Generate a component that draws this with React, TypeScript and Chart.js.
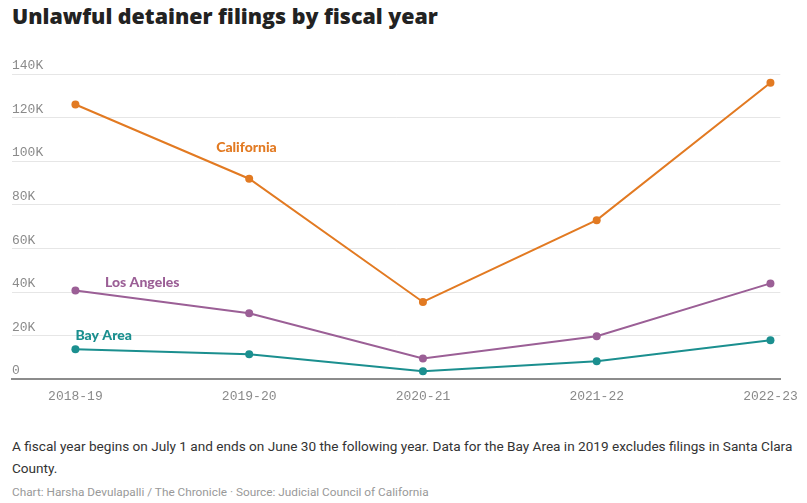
import React, { useEffect, useRef } from "react";
import { Chart, registerables } from "chart.js";

Chart.register(...registerables);

const categories = ["2018-19", "2019-20", "2020-21", "2021-22", "2022-23"];
const california = [126000, 92000, 35500, 73000, 136000];
const losAngeles = [40800, 30300, 9600, 19800, 44000];
const bayArea = [13800, 11500, 3700, 8300, 17900];
const seriesNames = ["California", "Los Angeles", "Bay Area"];
const yTickValues = [0, 20000, 40000, 60000, 80000, 100000, 120000, 140000];

const COLORS = ["#e27a22", "#9b5f96", "#1b8f8f"];

const fmtK = (v: number) => (v === 0 ? "0" : `${v / 1000}K`);

const labelPlugin = {
  id: "customLabels",
  afterDraw(chart: any) {
    const ctx = chart.ctx;
    const x = chart.scales.x;
    const y = chart.scales.y;
    ctx.save();
    // y tick labels above gridlines
    ctx.font = "13px 'Liberation Mono'";
    ctx.fillStyle = "#8a8a8a";
    ctx.textAlign = "left";
    ctx.textBaseline = "alphabetic";
    yTickValues.forEach((v) => {
      ctx.fillText(fmtK(v), chart.chartArea.left, y.getPixelForValue(v) - 5);
    });
    // series labels
    const anchors = [
      [0.81, 106400],
      [0.17, 44500],
      [0.0, 20200],
    ];
    ctx.font = "900 14px Lato";
    ctx.textBaseline = "middle";
    seriesNames.forEach((name, i) => {
      ctx.fillStyle = COLORS[i];
      ctx.fillText(name, x.getPixelForValue(anchors[i][0]), y.getPixelForValue(anchors[i][1]));
    });
    ctx.restore();
  },
};

export default function App() {
  const ref = useRef<HTMLCanvasElement>(null);
  useEffect(() => {
    if (!ref.current) return;
    const mk = (arr: number[]) => arr.map((v, i) => ({ x: i, y: v }));
    const allSeries = [california, losAngeles, bayArea];
    const chart = new Chart(ref.current, {
      type: "line",
      data: {
        datasets: allSeries.map((s, i) => ({
          label: seriesNames[i],
          data: mk(s),
          borderColor: COLORS[i],
          backgroundColor: COLORS[i],
          borderWidth: 2,
          pointRadius: 4,
          pointBorderWidth: 0,
          pointHoverRadius: 4,
          tension: 0,
        })),
      },
      options: {
        animation: false,
        responsive: false,
        maintainAspectRatio: false,
        layout: { padding: { left: 12, right: 19, top: 34, bottom: 7 } },
        plugins: { legend: { display: false }, tooltip: { enabled: false } },
        scales: {
          x: {
            type: "linear",
            min: -0.365,
            max: 4.057,
            afterBuildTicks: (scale: any) => {
              scale.ticks = categories.map((_, i) => ({ value: i }));
            },
            ticks: {
              autoSkip: false,
              maxRotation: 0,
              padding: 9,
              color: "#8a8a8a",
              font: { family: "'Liberation Mono'", size: 13 },
              callback: (v: any) => categories[v as number],
            },
            grid: { display: false, drawTicks: false },
            border: { display: true, color: "#8c8c8c", width: 2 },
          },
          y: {
            min: 0,
            max: 140000,
            afterBuildTicks: (scale: any) => {
              scale.ticks = yTickValues.map((v) => ({ value: v }));
            },
            ticks: { display: false },
            grid: { color: "#e6e6e6", lineWidth: 1, drawTicks: false },
            border: { display: false },
          },
        },
      },
      plugins: [labelPlugin],
    });
    return () => chart.destroy();
  }, []);

  return (
    <div
      style={{
        position: "absolute",
        left: 0,
        top: 0,
        width: 807,
        height: 503,
        background: "#fff",
        overflow: "hidden",
      }}
    >
      <div
        style={{
          position: "absolute",
          left: 12,
          top: 1,
          fontFamily: "'Open Sans'",
          fontWeight: 800,
          fontSize: 21.4,
          color: "#222",
          whiteSpace: "nowrap",
        }}
      >
        Unlawful detainer filings by fiscal year
      </div>
      <canvas
        ref={ref}
        width={807}
        height={380}
        style={{ position: "absolute", left: 0, top: 40, width: 807, height: 380 }}
      />
      <div
        style={{
          position: "absolute",
          left: 12,
          top: 435,
          fontFamily: "Roboto",
          fontSize: 13.6,
          lineHeight: "22px",
          color: "#333",
          whiteSpace: "nowrap",
        }}
      >
        A fiscal year begins on July 1 and ends on June 30 the following year. Data for the Bay Area in 2019 excludes filings in Santa Clara
        <br />
        County.
      </div>
      <div
        style={{
          position: "absolute",
          left: 12,
          top: 485,
          fontFamily: "Roboto",
          fontSize: 11.8,
          color: "#999",
          whiteSpace: "nowrap",
        }}
      >
        Chart: Harsha Devulapalli / The Chronicle · Source: Judicial Council of California
      </div>
    </div>
  );
}
